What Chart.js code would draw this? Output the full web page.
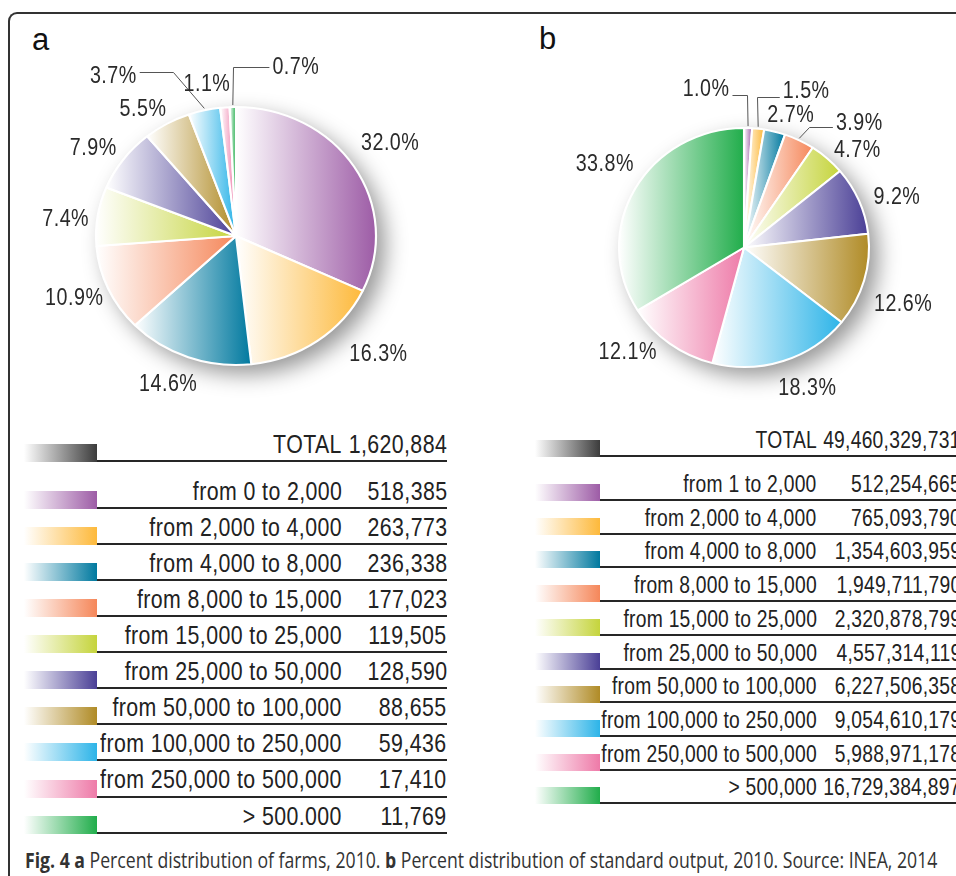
<!DOCTYPE html>
<html>
<head>
<meta charset="utf-8">
<script src="https://cdn.jsdelivr.net/npm/chart.js@4.4.1/dist/chart.umd.min.js"></script>
<style>
  html, body { margin: 0; padding: 0; background: #fff; }
  body { width: 956px; height: 876px; position: relative; overflow: hidden;
         font-family: "Liberation Sans", Arial, sans-serif; color: #222; }
  .frame { position: absolute; left: 8px; top: 12px; width: 1000px; height: 900px;
           border-left: 2px solid #333; border-top: 2px solid #333; border-top-left-radius: 9px; }
  .panel { position: absolute; font-family: "Liberation Sans", Arial, sans-serif; font-size: 31px; color: #111; line-height: 1; }
  canvas { position: absolute; top: 0; }
  .sw, .ln, .tx { position: absolute; }
  .tx { white-space: nowrap; line-height: 1; transform-origin: 100% 50%; color: #222; }
  .cap { position: absolute; left: 25px; white-space: nowrap; font-family: "Open Sans", sans-serif;
         font-size: 21px; line-height: 1; color: #333; transform-origin: 0 0; }
</style>
</head>
<body>
<div class="frame"></div>
<div class="panel" style="left:32px; top:24px;">a</div>
<div class="panel" style="left:539px; top:23px;">b</div>
<canvas id="pieA" width="480" height="420" style="left:0px"></canvas>
<canvas id="pieB" width="476" height="420" style="left:480px"></canvas>
<div id="tables"></div>
<div class="cap" id="cap"><b>Fig. 4 a</b> Percent distribution of farms, 2010. <b>b</b> Percent distribution of standard output, 2010. Source: INEA, 2014</div>

<script>
// classes of standard output (euro)
var classesA = ["from 0 to 2,000", "from 2,000 to 4,000", "from 4,000 to 8,000", "from 8,000 to 15,000",
    "from 15,000 to 25,000", "from 25,000 to 50,000", "from 50,000 to 100,000", "from 100,000 to 250,000",
    "from 250,000 to 500,000", "> 500.000"];
var classesB = ["from 1 to 2,000", "from 2,000 to 4,000", "from 4,000 to 8,000", "from 8,000 to 15,000",
    "from 15,000 to 25,000", "from 25,000 to 50,000", "from 50,000 to 100,000", "from 100,000 to 250,000",
    "from 250,000 to 500,000", "> 500,000"];

// a: number of farms
var farms = [518385, 263773, 236338, 177023, 119505, 128590, 88655, 59436, 17410, 11769];
var farmsTotal = 1620884;

// b: standard output
var output = [512254665, 765093790, 1354603959, 1949711790, 2320878799, 4557314119,
    6227506358, 9054610179, 5988971178, 16729384897];
var outputTotal = 49460329731;

var classColors = ['#9d5ca6', '#fdb93b', '#00799f', '#f5875a', '#c5d43c',
    '#4a3f96', '#b08b26', '#2db4e8', '#ee7aa8', '#21ad4b'];
var totalColor = '#3c3c3c';

// label placement, offset of the label centre from the rim at the slice middle
var placeA = [[36, -25], [61, 11], [-20, 25], [-34, 8], [-32, 1], [-30, -13], [-24, -16], [-91, -36], [-18, -25], [63, -42]];
var placeB = [[-42, -41], [48, -39], [16, -18], [60, -19], [30, -10], [38, -5], [39, 22], [24, 25], [-42, 7], [-30, -27]];
// leader lines: slice index -> [elbow dx from rim, line dy from label centre]
var leadersA = { 7: [-31, -2], 9: [0, 2] };
var leadersB = { 0: [-1, 8], 1: [-1, 7], 3: [10, 6] };

var NARROW = 0.82; // condensed look of the figure's lettering

var pieLook = {
    id: 'pieLook',
    beforeDatasetsDraw: function(chart, args, o) {
        var ctx = chart.ctx;
        var arcs = chart.getDatasetMeta(0).data;
        var cx = arcs[0].x, cy = arcs[0].y, r = arcs[0].outerRadius;
        ctx.save();
        // soft drop shadow under the pie
        ctx.save();
        ctx.translate(cx, cy);
        ctx.scale(o.sx, 1);
        ctx.beginPath();
        ctx.arc(0, 0, r, 0, Math.PI * 2);
        ctx.shadowColor = 'rgba(0,0,0,0.42)';
        ctx.shadowBlur = 22;
        ctx.shadowOffsetX = 9;
        ctx.shadowOffsetY = 9;
        ctx.fillStyle = '#fff';
        ctx.fill();
        ctx.restore();
        // the picture is a little wider than tall
        ctx.translate(cx, cy);
        ctx.scale(o.sx, 1);
        ctx.translate(-cx, -cy);
        arcs.forEach(function(arc, i) {
            var minX = cx, maxX = cx;
            for (var k = 0; k <= 48; k++) {
                var a = arc.startAngle + (arc.endAngle - arc.startAngle) * k / 48;
                var x = cx + r * Math.cos(a);
                minX = Math.min(minX, x);
                maxX = Math.max(maxX, x);
            }
            if (maxX - minX < 2) maxX = minX + 2;
            var g = ctx.createLinearGradient(minX, 0, maxX, 0);
            g.addColorStop(0, '#ffffff');
            g.addColorStop(1, o.colors[i]);
            arc.options.backgroundColor = g;
        });
    },
    afterDatasetsDraw: function(chart, args, o) {
        var ctx = chart.ctx;
        ctx.restore();
        var arcs = chart.getDatasetMeta(0).data;
        var cx = arcs[0].x, cy = arcs[0].y, r = arcs[0].outerRadius;
        var values = chart.data.datasets[0].data;
        ctx.save();
        ctx.font = o.fontSize + 'px "Liberation Sans", Arial, sans-serif';
        ctx.letterSpacing = '0.6px';
        ctx.fillStyle = '#2a2a2a';
        ctx.strokeStyle = '#555';
        ctx.lineWidth = 1;
        ctx.textAlign = 'center';
        ctx.textBaseline = 'alphabetic';
        arcs.forEach(function(arc, i) {
            var mid = (arc.startAngle + arc.endAngle) / 2;
            var ex = cx + o.sx * r * Math.cos(mid);
            var ey = cy + r * Math.sin(mid);
            var lx = ex + o.place[i][0];
            var ly = ey + o.place[i][1];
            var text = (values[i] / o.total * 100).toFixed(1) + '%';
            ctx.save();
            ctx.translate(lx, ly + o.fontSize * 0.36);
            ctx.scale(NARROW, 1);
            ctx.fillText(text, 0, 0);
            ctx.restore();
            var ld = o.leaders[i];
            if (ld) {
                var w = ctx.measureText(text).width * NARROW;
                var yLine = Math.round(ly + ld[1]) + 0.5;
                var xElbow = Math.round(ex + ld[0]) + 0.5;
                var xEnd = lx > xElbow ? lx - w / 2 - 3 : lx + w / 2 + 3;
                ctx.beginPath();
                ctx.moveTo(ex, ey - 2);
                ctx.lineTo(xElbow, yLine);
                ctx.lineTo(xEnd, yLine);
                ctx.stroke();
            }
        });
        ctx.restore();
    }
};

function makePie(id, cats, values, total, padding, sx, place, leaders) {
    return new Chart(document.getElementById(id), {
        type: 'pie',
        data: {
            labels: cats,
            datasets: [{
                data: values,
                backgroundColor: classColors.slice(),
                borderColor: '#ffffff',
                borderWidth: 2
            }]
        },
        options: {
            responsive: false,
            animation: false,
            events: [],
            layout: { padding: padding },
            plugins: {
                legend: { display: false },
                tooltip: { enabled: false },
                pieLook: { sx: sx, colors: classColors, total: total, place: place, leaders: leaders, fontSize: 24 }
            }
        },
        plugins: [pieLook]
    });
}

makePie('pieA', classesA, farms, farmsTotal, { left: 106, top: 106, right: 114, bottom: 54 }, 140 / 129, placeA, leadersA);
makePie('pieB', classesB, output, outputTotal, { left: 143.5, top: 127, right: 91.5, bottom: 52 }, 125 / 119.5, placeB, leadersB);

// the two tables under the pies
function fmt(v) { return v.toLocaleString('en-US'); }

function addText(parent, str, right, baseline, fs, ls) {
    var d = document.createElement('div');
    d.className = 'tx';
    d.textContent = str;
    d.style.fontSize = fs + 'px';
    d.style.letterSpacing = ls + 'px';
    d.style.right = (956 - right) + 'px';
    d.style.top = (baseline - 0.85 * fs) + 'px';
    d.style.transform = 'scaleX(' + NARROW + ')';
    parent.appendChild(d);
}

function addRow(parent, t, lineY, color, label, value) {
    var sw = document.createElement('div');
    sw.className = 'sw';
    sw.style.left = t.swL + 'px';
    sw.style.width = (t.swR - t.swL) + 'px';
    sw.style.top = (lineY - t.swH + 1) + 'px';
    sw.style.height = t.swH + 'px';
    sw.style.background = 'linear-gradient(to right, rgba(255,255,255,1) 0%, ' + color + ' 100%)';
    parent.appendChild(sw);
    var ln = document.createElement('div');
    ln.className = 'ln';
    ln.style.left = t.swR + 'px';
    ln.style.width = (t.lineR - t.swR) + 'px';
    ln.style.top = (lineY - 1) + 'px';
    ln.style.height = '2px';
    ln.style.background = '#262626';
    parent.appendChild(ln);
    addText(parent, label, t.labelR, lineY - t.gap, t.fs, t.ls);
    addText(parent, value, t.valueR, lineY - t.gap, t.fs, t.ls);
}

function buildTable(t, cats, values, total) {
    var host = document.getElementById('tables');
    addRow(host, t, t.totalY, totalColor, 'TOTAL', fmt(total));
    cats.forEach(function(c, i) {
        addRow(host, t, t.firstY + i * t.step, classColors[i], c, fmt(values[i]));
    });
}

buildTable({ swL: 24, swR: 97, lineR: 447, labelR: 342, valueR: 447, swH: 18, fs: 26, ls: 0.5,
    totalY: 461, firstY: 507.7, step: 36.1, gap: 8 }, classesA, farms, farmsTotal);
buildTable({ swL: 535, swR: 600, lineR: 1000, labelR: 817, valueR: 961, swH: 17, fs: 23.5, ls: 0.3,
    totalY: 456, firstY: 500, step: 33.7, gap: 7 }, classesB, output, outputTotal);

// caption squeezed to the width it has in the figure
var cap = document.getElementById('cap');
cap.style.top = (868 - 0.85 * 21) + 'px';
cap.style.transform = 'scaleX(' + (912 / cap.scrollWidth) + ')';
</script>
</body>
</html>
